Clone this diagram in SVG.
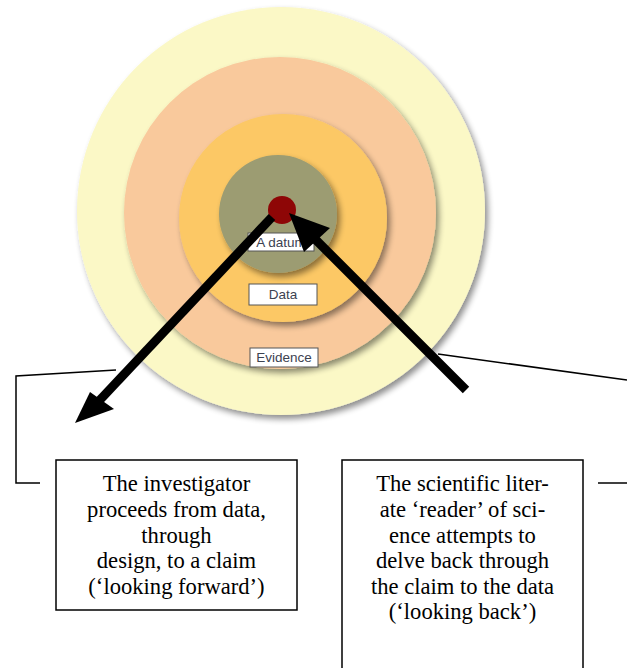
<svg xmlns="http://www.w3.org/2000/svg" width="627" height="668" viewBox="0 0 627 668">
<style>
.lbl{fill:#fff;stroke:#555;stroke-width:1}
.lt{font-family:"Liberation Sans",Arial,sans-serif;font-size:13.5px;fill:#3c4250;text-anchor:middle}
.box{fill:#fff;stroke:#000;stroke-width:1.5}
.bt{font-family:"Liberation Serif","Times New Roman",serif;font-size:22.6px;fill:#000;text-anchor:middle}
.arr{stroke:#000;stroke-width:9;fill:none}
.thin{stroke:#000;stroke-width:1.5;fill:none}
</style>
<defs>
<filter id="sh" x="-10%" y="-10%" width="130%" height="130%">
<feGaussianBlur in="SourceAlpha" stdDeviation="3"/>
<feOffset dx="3" dy="4" result="b"/>
<feComponentTransfer><feFuncA type="linear" slope="0.45"/></feComponentTransfer>
<feMerge><feMergeNode/><feMergeNode in="SourceGraphic"/></feMerge>
</filter>
</defs>
<g id="ring-outer"><circle cx="281" cy="211" r="204" fill="#FBF8C6" filter="url(#sh)"/></g>
<g id="ring-evidence"><circle cx="280" cy="213" r="156" fill="#F9C99C" filter="url(#sh)"/></g>
<g id="ring-data"><circle cx="283" cy="218" r="104" fill="#FCC865" filter="url(#sh)"/></g>
<g id="ring-datum"><circle cx="278" cy="214" r="59" fill="#9C9C72" filter="url(#sh)"/></g>
<g id="dot"><circle cx="282" cy="210" r="14" fill="#8E0606"/></g>
<g id="label-datum"><rect class="lbl" x="248" y="233" width="66" height="18"/><text class="lt" x="281" y="247">A datum</text></g>
<g id="label-data"><rect class="lbl" x="249" y="284" width="68" height="21"/><text class="lt" x="283" y="299">Data</text></g>
<g id="label-evidence"><rect class="lbl" x="250" y="348" width="68" height="19"/><text class="lt" x="284" y="362">Evidence</text></g>
<g id="connectors">
<polyline class="thin" points="116,370 16,376 16,483 40,483"/>
<polyline class="thin" points="438,354 627,380"/>
<line class="thin" x1="598" y1="483" x2="627" y2="483"/>
<line class="arr" x1="272" y1="217" x2="98" y2="402"/>
<polygon points="75,423 114,409 90,392" fill="#000"/>
<line class="arr" x1="466" y1="390" x2="310" y2="234"/>
<polygon points="289,213 330,228 304,252" fill="#000"/>
</g>
<g id="box-left">
<rect class="box" x="56" y="460" width="241" height="150"/>
<text class="bt" x="176.5" y="491">The investigator</text>
<text class="bt" x="176.5" y="517">proceeds from data,</text>
<text class="bt" x="176.5" y="543">through</text>
<text class="bt" x="176.5" y="568">design, to a claim</text>
<text class="bt" x="176.5" y="594">(‘looking forward’)</text>
</g>
<g id="box-right">
<rect class="box" x="342" y="460" width="241" height="220"/>
<text class="bt" x="462.5" y="491">The scientific liter-</text>
<text class="bt" x="462.5" y="517">ate ‘reader’ of sci-</text>
<text class="bt" x="462.5" y="543">ence attempts to</text>
<text class="bt" x="462.5" y="568">delve back through</text>
<text class="bt" x="462.5" y="594">the claim to the data</text>
<text class="bt" x="462.5" y="619">(‘looking back’)</text>
</g>
</svg>
